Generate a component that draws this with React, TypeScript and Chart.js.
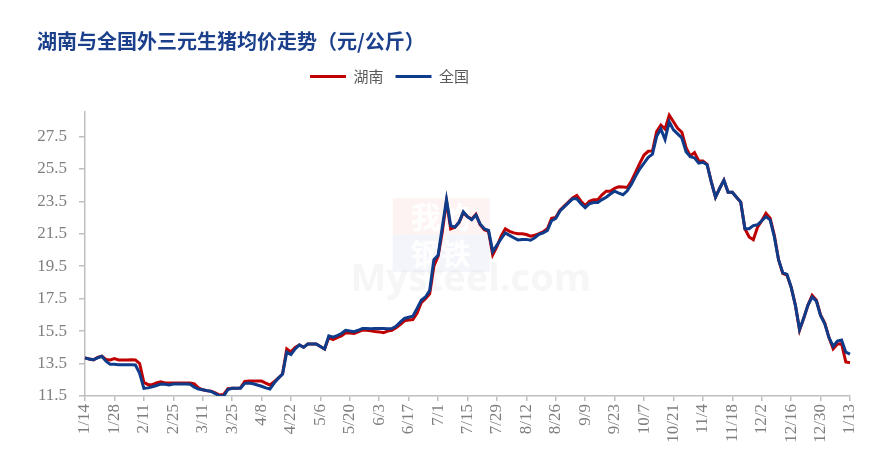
import React, { useEffect, useRef } from 'react';
import { Chart, registerables } from 'chart.js';

Chart.register(...registerables);

// ---- data (every 2 days, 2022-01-14 .. 2023-01-13), 元/公斤 ----
const START_DATE = Date.UTC(2022, 0, 14);
const STEP_DAYS = 2;

const hunan: number[] = [
  13.85, 13.78, 13.73, 13.88, 13.95, 13.75, 13.72, 13.8, 13.72, 13.72,
  13.72, 13.73, 13.72, 13.5, 12.35, 12.2, 12.2, 12.3, 12.38, 12.3,
  12.3, 12.3, 12.3, 12.3, 12.3, 12.3, 12.25, 12.0, 11.88, 11.83,
  11.8, 11.7, 11.56, 11.6, 11.95, 11.97, 11.97, 12.0, 12.4, 12.42,
  12.42, 12.42, 12.42, 12.3, 12.18, 12.38, 12.6, 12.85, 14.4, 14.22,
  14.5, 14.65, 14.5, 14.7, 14.7, 14.7, 14.55, 14.4, 15.1, 14.98,
  15.1, 15.2, 15.4, 15.38, 15.35, 15.45, 15.56, 15.55, 15.52, 15.48,
  15.45, 15.4, 15.5, 15.55, 15.7, 15.9, 16.13, 16.18, 16.21, 16.6,
  17.25, 17.5, 17.8, 19.5, 20.1, 21.6, 23.5, 21.8, 21.9, 22.2,
  22.8, 22.55, 22.4, 22.7, 22.05, 21.75, 21.65, 20.2, 20.7, 21.35,
  21.8, 21.65, 21.55, 21.5, 21.5, 21.45, 21.35, 21.4, 21.5, 21.62,
  21.8, 22.45, 22.5, 22.95, 23.2, 23.45, 23.7, 23.85, 23.5, 23.24,
  23.5, 23.6, 23.6, 23.9, 24.12, 24.12, 24.3, 24.4, 24.38, 24.35,
  24.75, 25.3, 25.85, 26.35, 26.58, 26.6, 27.8, 28.2, 27.95, 28.8,
  28.4, 28.0, 27.75, 26.8, 26.3, 26.5, 26.0, 25.98, 25.78, 24.7,
  23.75, 24.3, 24.8, 24.06, 24.05, 23.75, 23.45, 21.81, 21.3, 21.13,
  21.9, 22.3, 22.75, 22.45, 21.4, 19.9, 19.05, 18.95, 18.2, 17.1,
  15.55, 16.3, 17.1, 17.7, 17.4, 16.5, 16.0, 15.1, 14.4, 14.7,
  14.72, 13.6, 13.55,
];

const national: number[] = [
  13.85, 13.78, 13.73, 13.85, 13.95, 13.65, 13.45, 13.45, 13.43, 13.43,
  13.43, 13.42, 13.41, 12.9, 11.97, 12.0, 12.07, 12.15, 12.24, 12.22,
  12.18, 12.24, 12.24, 12.24, 12.24, 12.22, 12.05, 11.93, 11.88, 11.83,
  11.78, 11.65, 11.5, 11.5, 11.9, 11.97, 11.97, 11.98, 12.28, 12.3,
  12.25, 12.18, 12.1, 12.0, 11.93, 12.3, 12.6, 12.85, 14.2, 14.05,
  14.4, 14.65, 14.5, 14.7, 14.7, 14.7, 14.55, 14.4, 15.2, 15.12,
  15.22, 15.35, 15.55, 15.5, 15.46, 15.55, 15.66, 15.66, 15.65, 15.66,
  15.66, 15.66, 15.65, 15.66, 15.8, 16.05, 16.28, 16.35, 16.42, 16.9,
  17.4, 17.6, 18.0, 19.9, 20.17, 21.9, 23.6, 22.0, 21.9, 22.21,
  22.85, 22.55, 22.36, 22.65, 22.1, 21.8, 21.7, 20.4, 20.8, 21.19,
  21.55, 21.4, 21.25, 21.12, 21.15, 21.15, 21.1, 21.25, 21.46, 21.55,
  21.7, 22.3, 22.45, 22.9, 23.15, 23.4, 23.65, 23.65, 23.35, 23.1,
  23.35, 23.42, 23.42, 23.6, 23.75, 23.95, 24.12, 24.0, 23.9, 24.15,
  24.55, 25.05, 25.5, 25.85, 26.21, 26.4, 27.5, 27.95, 27.3, 28.4,
  27.9, 27.65, 27.4, 26.55, 26.25, 26.17, 25.85, 25.9, 25.75, 24.7,
  23.75, 24.3, 24.8, 24.06, 24.05, 23.75, 23.45, 21.81, 21.81, 22.0,
  22.05, 22.3, 22.55, 22.35, 21.3, 19.9, 19.1, 19.0, 18.2, 17.1,
  15.6, 16.3, 17.1, 17.6, 17.35, 16.45, 15.95, 15.1, 14.55, 14.88,
  14.95, 14.2, 14.08,
];

const categories: string[] = hunan.map((_, i) => {
  const d = new Date(START_DATE + i * STEP_DAYS * 86400000);
  return `${d.getUTCMonth() + 1}/${d.getUTCDate()}`;
});

const LABEL_EVERY = 7; // one label each 14 days
const yTicks: number[] = [11.5, 13.5, 15.5, 17.5, 19.5, 21.5, 23.5, 25.5, 27.5];
const Y_MIN = 11.5;
const Y_MAX = 29;

const TITLE = '湖南与全国外三元生猪均价走势（元/公斤）';
const SERIES_NAMES = ['湖南', '全国'];
const COLORS = ['#C00000', '#0E3C8A'];

const AXIS_COLOR = '#BFBFBF';
const TICK_COLOR = '#7F7F7F';
const LEGEND_SHIFT = 54;

const legendShift = {
  id: 'legendShift',
  afterLayout(chart: any) {
    const lg = chart.legend;
    if (lg) {
      lg.left -= LEGEND_SHIFT;
      lg.right -= LEGEND_SHIFT;
    }
  },
};

const watermark = {
  id: 'watermark',
  beforeDatasetsDraw(chart: any) {
    const { ctx, chartArea } = chart;
    const cx = chartArea.left + (chartArea.right - chartArea.left) * 0.465;
    const top = chartArea.top + 86;
    ctx.save();
    ctx.fillStyle = 'rgba(240,180,180,0.16)';
    ctx.fillRect(cx - 48, top, 97, 37);
    ctx.fillStyle = 'rgba(180,190,225,0.16)';
    ctx.fillRect(cx - 48, top + 37, 97, 37);
    ctx.fillStyle = 'rgba(255,255,255,0.95)';
    ctx.font = 'bold 30px "Noto Sans CJK SC"';
    ctx.textAlign = 'center';
    ctx.textBaseline = 'middle';
    ctx.fillText('我的', cx, top + 19);
    ctx.fillText('钢铁', cx, top + 56);
    ctx.fillStyle = 'rgba(215,215,215,0.22)';
    ctx.font = 'bold 38px "Open Sans"';
    ctx.fillText('Mysteel.com', cx + 30, top + 82);
    ctx.restore();
  },
};

export default function App() {
  const ref = useRef<HTMLCanvasElement | null>(null);

  useEffect(() => {
    if (!ref.current) return;
    const chart = new Chart(ref.current, {
      type: 'line',
      data: {
        labels: categories,
        datasets: [
          {
            label: SERIES_NAMES[0],
            data: hunan,
            borderColor: COLORS[0],
            backgroundColor: COLORS[0],
            borderWidth: 3,
            pointRadius: 0,
            tension: 0,
            order: 1,
            xAxisID: 'x',
          },
          {
            label: SERIES_NAMES[1],
            data: national,
            borderColor: COLORS[1],
            backgroundColor: COLORS[1],
            borderWidth: 3,
            pointRadius: 0,
            tension: 0,
            order: 0,
            xAxisID: 'x',
          },
        ],
      },
      options: {
        animation: false,
        responsive: false,
        maintainAspectRatio: false,
        layout: { padding: { left: 29, right: 28, top: 0, bottom: 0 } },
        plugins: {
          title: {
            display: true,
            text: TITLE,
            align: 'start',
            color: '#1B3F8B',
            font: { family: '"Noto Sans CJK SC"', size: 20, weight: 'bold' },
            padding: { top: 21, bottom: 4 },
          },
          legend: {
            display: true,
            position: 'top',
            align: 'center',
            labels: {
              boxWidth: 36,
              boxHeight: 3,
              padding: 12,
              color: '#595959',
              font: { family: '"Noto Sans CJK SC"', size: 15 },
              sort: (a: any, b: any) => a.datasetIndex - b.datasetIndex,
              generateLabels: (c: any) =>
                (Chart.defaults.plugins.legend.labels.generateLabels as any)(c).map((l: any) => ({
                  ...l,
                  lineWidth: 0,
                })),
            },
          },
          tooltip: { enabled: false },
        },
        scales: {
          x: {
            type: 'category',
            position: 'bottom',
            offset: false,
            grid: {
              display: true,
              drawOnChartArea: false,
              drawTicks: true,
              tickLength: 5,
              color: (c: any) => (c.index % LABEL_EVERY === 0 ? AXIS_COLOR : 'rgba(0,0,0,0)'),
              lineWidth: 1.5,
            },
            border: { display: true, color: AXIS_COLOR, width: 1.5 },
            ticks: {
              autoSkip: false,
              minRotation: 90,
              maxRotation: 90,
              padding: 3,
              color: TICK_COLOR,
              font: { family: '"Liberation Serif"', size: 17 },
              callback: (_v: any, i: number) => (i % LABEL_EVERY === 0 ? categories[i] : ''),
            },
            afterFit: (s: any) => {
              s.height = 60;
            },
          },
          spacer: {
            type: 'category',
            position: 'top',
            display: true,
            grid: { display: false, drawTicks: false },
            border: { display: false },
            ticks: { display: false },
            afterFit: (s: any) => {
              s.height = 18;
            },
          },
          y: {
            type: 'linear',
            min: Y_MIN,
            max: Y_MAX,
            grid: {
              display: true,
              drawOnChartArea: false,
              drawTicks: true,
              tickLength: 6,
              color: AXIS_COLOR,
              lineWidth: 1.5,
            },
            border: { display: true, color: AXIS_COLOR, width: 1.5 },
            afterBuildTicks: (s: any) => {
              s.ticks = yTicks.map((v) => ({ value: v }));
            },
            ticks: {
              padding: 12,
              color: TICK_COLOR,
              font: { family: '"Liberation Serif"', size: 17 },
              callback: (v: any) => Number(v).toFixed(1),
            },
            afterFit: (s: any) => {
              s.width = 48;
            },
          },
        },
      } as any,
      plugins: [legendShift, watermark],
    });
    return () => chart.destroy();
  }, []);

  return (
    <div style={{ width: 870, height: 448 }}>
      <canvas ref={ref} width={870} height={448} style={{ display: 'block' }} />
    </div>
  );
}
